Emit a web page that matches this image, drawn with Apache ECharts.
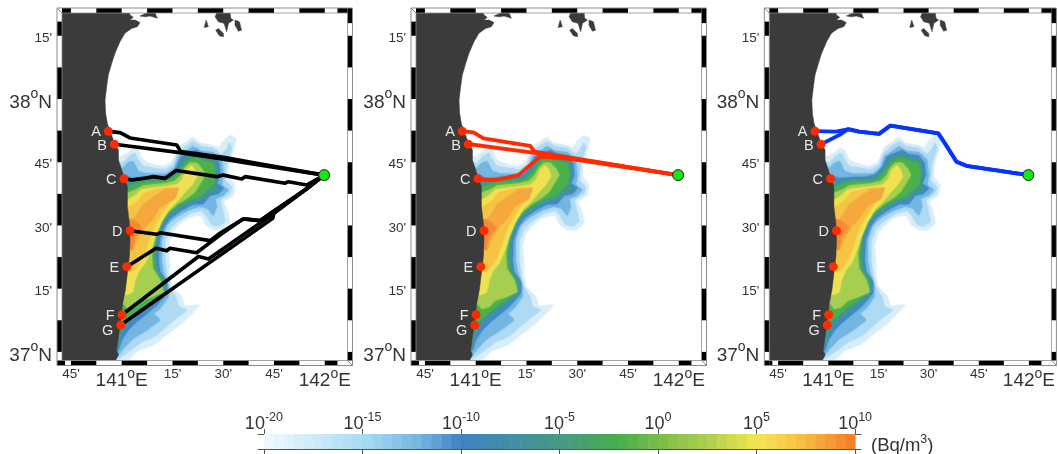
<!DOCTYPE html>
<html><head><meta charset="utf-8">
<style>html,body{margin:0;padding:0;background:#fff}#c{width:1058px;height:454px}</style>
<script src="https://cdn.jsdelivr.net/npm/echarts@6/dist/echarts.min.js"></script>
</head><body><div id="c"></div>
<script>
// ---------- axes ----------
const lonRange = [140.706, 142.112];
const latRange = [36.966, 38.34];
const lonTicks = [140.75, 141, 141.25, 141.5, 141.75, 142];
const lonTickLabels = ["45'", "141|E", "15'", "30'", "45'", "142|E"];
const latTicks = [37, 37.25, 37.5, 37.75, 38, 38.25];
const latTickLabels = ["37|N", "15'", "30'", "45'", "38|N", "15'"];
const colorbarTicks = [-20, -15, -10, -5, 0, 5, 10];

// ---------- map frame: black stretches along each edge ----------
const frameTop = [[140.706,140.75],[140.875,141],[141.125,141.25],[141.375,141.5],[141.625,141.75],[141.875,142],[142.0625,142.112]];
const frameBottom = [[140.706,140.721],[140.75,140.875],[141,141.125],[141.25,141.375],[141.5,141.625],[141.75,141.875],[142,142.0625]];
const frameLeft = [[38.25,38.306],[38,38.125],[37.75,37.875],[37.5,37.625],[37.25,37.375],[37,37.125],[36.966,36.966]];
const frameRight = [[38.30,38.34],[38.125,38.25],[37.875,38],[37.625,37.75],[37.375,37.5],[37.125,37.25],[36.966,37]];

// ---------- land ----------
const landMain = [[140.706,38.34],[141.038,38.34],[141.041,38.332],[141.057,38.323],[141.041,38.312],[141.066,38.312],[141.090,38.302],[141.077,38.286],[141.049,38.279],[141.016,38.260],[140.992,38.227],[140.967,38.181],[140.951,38.141],[140.934,38.095],[140.926,38.049],[140.918,37.996],[140.921,37.943],[140.929,37.904],[140.943,37.871],[140.959,37.838],[140.984,37.798],[140.984,37.759],[140.995,37.732],[141.011,37.693],[141.028,37.653],[141.028,37.574],[141.038,37.508],[141.041,37.442],[141.038,37.377],[141.028,37.311],[141.018,37.245],[141.005,37.192],[140.995,37.126],[140.984,37.060],[140.975,37.008],[140.984,36.988],[140.970,36.966],[140.706,36.966]];
const islandA = [[141.468,38.34],[141.534,38.34],[141.537,38.319],[141.550,38.312],[141.526,38.299],[141.517,38.266],[141.504,38.299],[141.476,38.305],[141.460,38.325]];
const islandB = [[141.558,38.312],[141.580,38.305],[141.590,38.272],[141.575,38.268],[141.558,38.292]];
const islandC = [[141.463,38.272],[141.476,38.279],[141.501,38.259],[141.501,38.246],[141.481,38.250]];
const islandD = [[141.416,38.312],[141.427,38.286],[141.406,38.283]];
const islandE = [[141.090,38.328],[141.123,38.34],[141.164,38.34],[141.176,38.319],[141.140,38.328],[141.115,38.325]];
const landShapes = [landMain, islandA, islandB, islandC, islandD, islandE];

// ---------- plume contours (lon, lat), outermost first ----------
const plume0 = [[140.998,37.772],[141.031,37.785],[141.056,37.805],[141.080,37.798],[141.097,37.765],[141.130,37.746],[141.163,37.739],[141.204,37.732],[141.245,37.746],[141.261,37.772],[141.282,37.811],[141.310,37.825],[141.351,37.848],[141.384,37.825],[141.433,37.818],[141.483,37.805],[141.499,37.831],[141.532,37.854],[141.562,37.844],[141.548,37.798],[141.524,37.732],[141.524,37.693],[141.557,37.660],[141.548,37.620],[141.499,37.594],[141.524,37.548],[141.532,37.508],[141.491,37.482],[141.450,37.485],[141.417,37.502],[141.392,37.541],[141.368,37.541],[141.319,37.528],[141.278,37.502],[141.245,37.469],[141.228,37.416],[141.236,37.350],[141.236,37.304],[141.245,37.258],[141.294,37.218],[141.310,37.179],[141.381,37.185],[141.343,37.152],[141.294,37.113],[141.228,37.073],[141.154,37.027],[141.080,37.007],[141.031,36.968],[140.974,36.966],[140.950,37.034],[140.924,37.469],[140.957,37.772]];
const plume1 = [[141.007,37.746],[141.036,37.772],[141.064,37.785],[141.080,37.759],[141.105,37.732],[141.154,37.726],[141.212,37.719],[141.256,37.739],[141.277,37.785],[141.310,37.809],[141.351,37.831],[141.392,37.811],[141.450,37.805],[141.491,37.779],[141.516,37.798],[141.532,37.825],[141.540,37.805],[141.516,37.746],[141.507,37.680],[141.540,37.651],[141.532,37.627],[141.483,37.601],[141.499,37.548],[141.507,37.515],[141.475,37.498],[141.442,37.506],[141.417,37.541],[141.392,37.561],[141.335,37.548],[141.286,37.524],[141.236,37.489],[141.212,37.436],[141.212,37.363],[141.220,37.311],[141.228,37.265],[141.266,37.218],[141.277,37.179],[141.319,37.166],[141.245,37.120],[141.171,37.067],[141.097,37.040],[141.031,37.001],[140.982,36.975],[140.924,37.073],[140.924,37.469],[140.957,37.746]];
const plume2 = [[141.007,37.726],[141.031,37.746],[141.056,37.752],[141.080,37.713],[141.122,37.703],[141.171,37.703],[141.220,37.703],[141.261,37.726],[141.282,37.772],[141.319,37.792],[141.351,37.811],[141.392,37.792],[141.450,37.788],[141.491,37.759],[141.499,37.699],[141.491,37.660],[141.524,37.640],[141.499,37.620],[141.458,37.607],[141.466,37.574],[141.450,37.541],[141.425,37.568],[141.384,37.577],[141.327,37.561],[141.269,37.535],[141.220,37.502],[141.195,37.442],[141.195,37.363],[141.204,37.317],[141.228,37.265],[141.228,37.218],[141.187,37.172],[141.154,37.152],[141.187,37.126],[141.122,37.087],[141.056,37.054],[141.007,37.014],[140.982,36.988],[140.924,37.073],[140.924,37.469],[140.957,37.726]];
const plume3 = [[141.010,37.699],[141.048,37.686],[141.085,37.686],[141.130,37.690],[141.187,37.690],[141.236,37.699],[141.273,37.732],[141.294,37.772],[141.335,37.785],[141.368,37.796],[141.401,37.779],[141.450,37.775],[141.478,37.746],[141.483,37.699],[141.466,37.666],[141.499,37.647],[141.475,37.627],[141.433,37.620],[141.401,37.587],[141.351,37.585],[141.294,37.561],[141.236,37.528],[141.204,37.489],[141.184,37.442],[141.179,37.363],[141.187,37.317],[141.220,37.278],[141.220,37.232],[141.171,37.185],[141.122,37.152],[141.072,37.120],[141.031,37.087],[140.998,37.047],[140.982,37.007],[140.924,37.073],[140.924,37.469],[140.957,37.699]];
const plume4 = [[141.010,37.673],[141.048,37.666],[141.092,37.680],[141.138,37.682],[141.195,37.682],[141.240,37.690],[141.282,37.726],[141.305,37.761],[141.343,37.775],[141.384,37.779],[141.417,37.765],[141.458,37.759],[141.470,37.719],[141.466,37.680],[141.458,37.653],[141.478,37.640],[141.442,37.634],[141.401,37.607],[141.351,37.598],[141.294,37.574],[141.236,37.541],[141.195,37.502],[141.174,37.449],[141.167,37.377],[141.174,37.324],[141.212,37.278],[141.212,37.238],[141.163,37.199],[141.105,37.166],[141.064,37.139],[141.023,37.113],[140.998,37.073],[140.982,37.021],[140.924,37.073],[140.924,37.469],[140.957,37.673]];
const plume5 = [[141.015,37.651],[141.056,37.656],[141.097,37.669],[141.146,37.673],[141.200,37.673],[141.245,37.680],[141.286,37.713],[141.310,37.746],[141.343,37.761],[141.376,37.765],[141.409,37.752],[141.447,37.746],[141.458,37.713],[141.453,37.666],[141.433,37.651],[141.392,37.620],[141.343,37.607],[141.286,37.585],[141.228,37.554],[141.190,37.515],[141.163,37.456],[141.154,37.383],[141.163,37.324],[141.200,37.278],[141.195,37.245],[141.154,37.212],[141.097,37.179],[141.056,37.152],[141.015,37.126],[140.998,37.100],[140.924,37.100],[140.924,37.469],[140.957,37.651]];
const plume6 = [[141.031,37.627],[141.072,37.640],[141.105,37.656],[141.154,37.660],[141.212,37.664],[141.261,37.673],[141.294,37.699],[141.310,37.726],[141.335,37.746],[141.368,37.746],[141.392,37.726],[141.409,37.699],[141.384,37.666],[141.360,37.634],[141.325,37.611],[141.275,37.587],[141.228,37.555],[141.190,37.512],[141.165,37.462],[141.145,37.390],[141.150,37.330],[141.187,37.284],[141.204,37.238],[141.146,37.218],[141.097,37.205],[141.064,37.179],[141.031,37.172],[141.010,37.192],[140.924,37.192],[140.924,37.469],[140.957,37.627]];
const plume7 = [[141.036,37.601],[141.072,37.620],[141.097,37.640],[141.154,37.647],[141.220,37.653],[141.273,37.660],[141.299,37.680],[141.319,37.719],[141.343,37.736],[141.360,37.717],[141.368,37.693],[141.343,37.660],[141.310,37.633],[141.277,37.601],[141.228,37.561],[141.195,37.515],[141.163,37.456],[141.138,37.396],[141.113,37.350],[141.085,37.324],[141.064,37.284],[141.053,37.238],[141.031,37.229],[140.924,37.229],[140.924,37.469],[140.957,37.601]];
const plume8 = [[141.043,37.574],[141.080,37.594],[141.113,37.627],[141.171,37.640],[141.228,37.647],[141.277,37.640],[141.245,37.607],[141.212,37.568],[141.179,37.528],[141.154,37.489],[141.130,37.436],[141.105,37.377],[141.080,37.344],[141.064,37.324],[141.048,37.324],[141.031,37.337],[140.957,37.337],[140.957,37.574]];
const plume9 = [[141.072,37.535],[141.105,37.581],[141.212,37.640],[141.277,37.647],[141.261,37.607],[141.187,37.574],[141.154,37.528],[141.113,37.495],[141.072,37.442],[141.056,37.403],[141.036,37.429],[140.98,37.429],[140.98,37.52],[141.048,37.515]];
const plume10 = [[141.048,37.522],[141.080,37.508],[141.097,37.489],[141.064,37.456],[141.048,37.403],[141.031,37.429],[140.98,37.45],[140.98,37.52]];
const plumeLayers = [plume0,plume1,plume2,plume3,plume4,plume5,plume6,plume7,plume8,plume9,plume10];
const plumeColors = ['#d9eef9','#aedaf3','#74b6e2','#4289c8','#3f9a8c','#4bb04b','#a6cf50','#f0e152','#f6c445','#f5a83d','#f38c34'];

// ---------- sites ----------
const siteNames = ['A','B','C','D','E','F','G'];
const siteLon = [140.934,140.964,141.011,141.041,141.025,141.002,140.995];
const siteLat = [37.872,37.821,37.685,37.479,37.337,37.147,37.106];
const originPoint = [141.997,37.699];

// ---------- tracks: panel 1 (black) ----------
const blackA = [[140.934,37.872],[140.992,37.867],[141.041,37.846],[141.271,37.818],[141.291,37.792],[141.509,37.769],[141.665,37.746],[141.997,37.699]];
const blackB = [[140.964,37.821],[141.287,37.788],[141.509,37.761],[141.668,37.740],[141.997,37.699]];
const blackC = [[141.011,37.685],[141.049,37.680],[141.107,37.686],[141.156,37.693],[141.213,37.686],[141.268,37.717],[141.468,37.693],[141.501,37.699],[141.591,37.684],[141.608,37.693],[141.805,37.667],[141.821,37.673],[141.911,37.660],[141.997,37.699]];
const blackD = [[141.041,37.479],[141.172,37.465],[141.189,37.471],[141.435,37.440],[141.484,37.469],[141.599,37.526],[141.681,37.519],[141.739,37.551],[141.911,37.645],[141.997,37.699]];
const blackE = [[141.025,37.337],[141.169,37.410],[141.222,37.400],[141.238,37.410],[141.369,37.392],[141.484,37.462],[141.599,37.526],[141.681,37.519],[141.739,37.551],[141.911,37.645],[141.997,37.699]];
const blackF = [[141.002,37.147],[141.378,37.377],[141.427,37.367],[141.739,37.541],[141.911,37.645],[141.997,37.699]];
const blackG = [[140.995,37.106],[141.744,37.528],[141.750,37.551],[141.911,37.645],[141.997,37.699]];
// ---------- tracks: panel 2 (red) ----------
const redA = [[140.931,37.873],[140.989,37.868],[141.038,37.844],[141.268,37.815],[141.289,37.792],[141.506,37.763],[141.997,37.699]];
const redB = [[140.961,37.822],[141.309,37.785],[141.498,37.759],[141.997,37.699]];
const redC = [[141.007,37.685],[141.046,37.680],[141.103,37.680],[141.177,37.693],[141.210,37.699],[141.317,37.772],[141.506,37.761],[141.997,37.699]];
// ---------- tracks: panel 3 (blue) ----------
const blueA = [[140.936,37.873],[141.039,37.871],[141.102,37.881],[141.154,37.871],[141.253,37.862],[141.310,37.895],[141.548,37.864],[141.581,37.825],[141.639,37.752],[141.688,37.736],[141.998,37.699]];
const blueB = [[140.964,37.821],[141.056,37.858],[141.097,37.880],[141.154,37.871],[141.253,37.862],[141.310,37.895],[141.548,37.864],[141.581,37.825],[141.639,37.752],[141.688,37.736],[141.998,37.699]];

const panelTracks = [
  {color:'#000000', width:3.6, tracks:[blackA,blackB,blackC,blackD,blackE,blackF,blackG]},
  {color:'#ff2a00', width:3.8, tracks:[redA,redB,redC]},
  {color:'#0733ff', width:3.8, tracks:[blueA,blueB]}
];

// ---------- colour bar ramp ----------
const rampLog = [-20,-15,-12,-10,-7.5,-5,-2,0,2.5,5,7,10];
const rampHex = ['#f2f9fd','#a9dcf6','#72b2df','#3f82c5','#3f8ea8','#449a86','#46ae4c','#78bc48','#accf50','#f4e650','#f8c446','#f47a2a'];
const rampStep = 0.5;

// ---------- layout ----------
const panelLeft = [62, 416, 769.3];
const panelWidth = 285.5, panelTop = 13, panelHeight = 347.5, band = 5;

function hexRgb(h){return [1,3,5].map(i=>parseInt(h.substr(i,2),16));}
function rampColor(v){
  let i=0; while(i<rampLog.length-2 && v>rampLog[i+1]) i++;
  const t=(v-rampLog[i])/(rampLog[i+1]-rampLog[i]);
  const a=hexRgb(rampHex[i]),b=hexRgb(rampHex[i+1]);
  return 'rgb('+a.map((x,k)=>Math.round(x+(b[k]-x)*t)).join(',')+')';
}
const barRows=[];
for(let k=0;k<60;k++){const v=-20+k*rampStep;barRows.push([v,v+rampStep,k]);}

function tickLabel(values,labels){
  return function(v){
    const s=labels[values.indexOf(v)]; if(!s) return '';
    if(s.indexOf('|')<0) return '{m|'+s+'}';
    const p=s.split('|');
    return '{b|'+p[0]+'}{o|o}{b|'+p[1]+'}';
  };
}
const richX={m:{fontSize:13.5,lineHeight:16,color:'#333',fontFamily:'Liberation Sans',verticalAlign:'top'},
  b:{fontSize:19,lineHeight:23,color:'#333',fontFamily:'Liberation Sans',verticalAlign:'bottom'},
  o:{fontSize:14,lineHeight:19,color:'#333',fontFamily:'Liberation Sans',verticalAlign:'top'}};
const richY={m:{fontSize:13.5,lineHeight:16,color:'#333',fontFamily:'Liberation Sans',padding:[3,0,0,0]},
  b:{fontSize:19,lineHeight:25,color:'#333',fontFamily:'Liberation Sans',verticalAlign:'bottom'},
  o:{fontSize:14,lineHeight:18,color:'#333',fontFamily:'Liberation Sans',verticalAlign:'top'}};

function frameItem(params,api){
  const c=params.coordSys, L=c.x, T=c.y, W=c.width, H=c.height, kids=[];
  const gray='#8a8a8a';
  kids.push({type:'rect',shape:{x:L-band,y:T-band,width:W+2*band,height:band},style:{fill:'#fff'}});
  kids.push({type:'rect',shape:{x:L-band,y:T+H,width:W+2*band,height:band},style:{fill:'#fff'}});
  kids.push({type:'rect',shape:{x:L-band,y:T,width:band,height:H},style:{fill:'#fff'}});
  kids.push({type:'rect',shape:{x:L+W,y:T,width:band,height:H},style:{fill:'#fff'}});
  const black='#000';
  frameTop.forEach(s=>{const a=api.coord([s[0],latRange[0]])[0],b=api.coord([s[1],latRange[0]])[0];kids.push({type:'rect',shape:{x:a,y:T-band,width:b-a,height:band},style:{fill:black}});});
  frameBottom.forEach(s=>{const a=api.coord([s[0],latRange[0]])[0],b=api.coord([s[1],latRange[0]])[0];kids.push({type:'rect',shape:{x:a,y:T+H,width:b-a,height:band},style:{fill:black}});});
  frameLeft.forEach(s=>{const a=api.coord([lonRange[0],s[1]])[1],b=api.coord([lonRange[0],s[0]])[1];kids.push({type:'rect',shape:{x:L-band,y:a,width:band,height:b-a},style:{fill:black}});});
  frameRight.forEach(s=>{const a=api.coord([lonRange[0],s[1]])[1],b=api.coord([lonRange[0],s[0]])[1];kids.push({type:'rect',shape:{x:L+W,y:a,width:band,height:b-a},style:{fill:black}});});
  kids.push({type:'rect',shape:{x:L+W,y:T-band,width:band,height:band},style:{fill:black}});
  kids.push({type:'rect',shape:{x:L-band,y:T+H,width:band,height:band},style:{fill:black}});
  kids.push({type:'line',shape:{x1:L-band,y1:T-band,x2:L,y2:T},style:{stroke:gray,lineWidth:1}});
  kids.push({type:'line',shape:{x1:L+W,y1:T+H,x2:L+W+band,y2:T+H+band},style:{stroke:gray,lineWidth:1}});
  kids.push({type:'rect',shape:{x:L,y:T,width:W,height:H},style:{fill:'none',stroke:gray,lineWidth:0.8}});
  kids.push({type:'rect',shape:{x:L-band,y:T-band,width:W+2*band,height:H+2*band},style:{fill:'none',stroke:gray,lineWidth:1}});
  return {type:'group',children:kids};
}

const grids=[],xAxes=[],yAxes=[],series=[];
panelLeft.forEach((left,p)=>{
  grids.push({left:left,top:panelTop,width:panelWidth,height:panelHeight});
  xAxes.push({type:'value',gridIndex:p,min:lonRange[0],max:lonRange[1],splitLine:{show:false},axisLine:{show:false},axisTick:{show:false},
    axisLabel:{customValues:lonTicks,margin:7,verticalAlign:'top',formatter:tickLabel(lonTicks,lonTickLabels),rich:richX}});
  yAxes.push({type:'value',gridIndex:p,min:latRange[0],max:latRange[1],splitLine:{show:false},axisLine:{show:false},axisTick:{show:false},
    axisLabel:{customValues:latTicks,margin:10,align:'right',padding:[2,0,0,0],formatter:tickLabel(latTicks,latTickLabels),rich:richY}});
  const ax={xAxisIndex:p,yAxisIndex:p};
  series.push(Object.assign({type:'custom',silent:true,clip:true,z:2,data:plumeLayers.map((_,i)=>[i]),encode:{x:[],y:[]},
    renderItem:(params,api)=>{const i=api.value(0);return {type:'polygon',shape:{points:plumeLayers[i].map(q=>api.coord(q))},style:{fill:plumeColors[i],stroke:plumeColors[i],lineWidth:1,lineJoin:'round',shadowBlur:2,shadowColor:plumeColors[i]}};}},ax));
  series.push(Object.assign({type:'custom',silent:true,clip:true,z:3,data:landShapes.map((_,i)=>[i]),encode:{x:[],y:[]},
    renderItem:(params,api)=>({type:'polygon',shape:{points:landShapes[api.value(0)].map(q=>api.coord(q))},style:{fill:'#3b3b3b',stroke:'#3b3b3b',lineWidth:0.5}})},ax));
  panelTracks[p].tracks.forEach(t=>{
    series.push(Object.assign({type:'line',z:4,silent:true,showSymbol:false,data:t,lineStyle:{color:panelTracks[p].color,width:panelTracks[p].width,join:'round',cap:'round'},animation:false},ax));
  });
  series.push(Object.assign({type:'scatter',z:5,silent:true,symbolSize:9,itemStyle:{color:'#ff2a00',opacity:1},
    data:siteNames.map((n,i)=>({value:[siteLon[i],siteLat[i]],name:n,
      label:{show:true,formatter:n,position:'left',distance:3,color:'#e6e6e6',fontSize:14.5,fontFamily:'Liberation Sans',
        offset:n==='G'?[0,6]:n==='B'?[0,2]:[0,1]}}))},ax));
  series.push(Object.assign({type:'scatter',z:6,silent:true,symbolSize:11,itemStyle:{color:'#16e616',borderColor:'#222',borderWidth:1,opacity:1},data:[originPoint]},ax));
  series.push(Object.assign({type:'custom',silent:true,clip:false,z:7,data:[[0]],encode:{x:[],y:[]},renderItem:frameItem},ax));
});

// colour bar grid
const barIdx=3;
grids.push({left:258,top:434,width:603,height:15});
const barRich={t:{fontSize:18,color:'#333',fontFamily:'Liberation Sans',lineHeight:22,verticalAlign:'bottom'},
  s:{fontSize:12.5,color:'#333',fontFamily:'Liberation Sans',lineHeight:22,verticalAlign:'top'}};
const barAxis=(pos,lbl)=>({type:'value',gridIndex:barIdx,position:pos,min:-20.3,max:10.3,splitLine:{show:false},
  axisLine:{show:true,onZero:false,lineStyle:{color:'#555',width:1}},
  axisTick:{show:true,customValues:colorbarTicks,length:5,lineStyle:{color:'#555',width:1}},
  axisLabel:lbl?{show:true,customValues:colorbarTicks,margin:1,formatter:v=>'{t|10}{s|'+v+'}',rich:barRich}:{show:false}});
xAxes.push(barAxis('top',true));
xAxes.push(barAxis('bottom',false));
yAxes.push({type:'value',gridIndex:barIdx,min:0,max:1,show:false});
series.push({type:'custom',silent:true,clip:false,z:2,xAxisIndex:barIdx,yAxisIndex:barIdx,data:barRows,encode:{x:[0,1]},
  renderItem:(params,api)=>{
    const a=api.coord([api.value(0),0]),b=api.coord([api.value(1),1]);
    return {type:'rect',shape:{x:a[0],y:b[1],width:b[0]-a[0]+0.5,height:a[1]-b[1]},style:{fill:rampColor(api.value(0)+rampStep/2)}};
  }});

const chart=echarts.init(document.getElementById('c'),null,{renderer:'canvas'});
chart.setOption({animation:false,backgroundColor:'#fff',grid:grids,xAxis:xAxes,yAxis:yAxes,series:series,
  graphic:[{type:'text',left:871,top:433,style:{text:'{a|(Bq/m}{e|3}{a|)}',rich:{a:{fontSize:18.5,fontFamily:'Liberation Sans',fill:'#333',lineHeight:22,verticalAlign:'bottom'},e:{fontSize:12.5,fontFamily:'Liberation Sans',fill:'#333',lineHeight:22,verticalAlign:'top'}}}}]
});
</script></body></html>
